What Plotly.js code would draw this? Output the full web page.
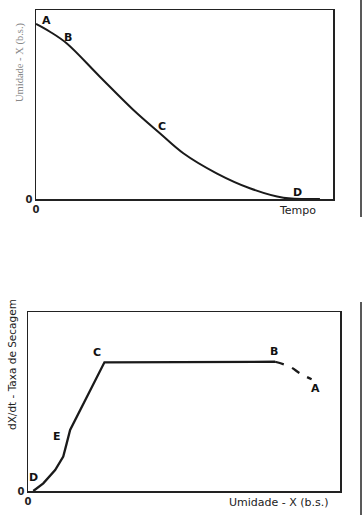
<!DOCTYPE html>
<html><head><meta charset="utf-8">
<script src="https://cdn.plot.ly/plotly-3.0.1.min.js"></script>
<style>html,body{margin:0;padding:0;background:#fff}#g{width:364px;height:515px}</style>
</head><body><div id="g"></div>
<script>
// Top chart: moisture X vs time
const tempo = [0, 0.47, 1.03, 2.15, 3.28, 4.17, 4.96, 6.08, 7.20, 8.33, 9.56];
const umidade = [9.26, 8.85, 8.24, 6.47, 4.71, 3.48, 2.42, 1.36, 0.57, 0.07, 0];
const topLabels = ['A', 'B', 'C', 'D'];
const topLabelX = [0.34, 1.08, 4.24, 8.79];
const topLabelY = [9.47, 8.52, 3.81, 0.37];

// Bottom chart: drying rate vs moisture
const umidadeSolid = [0.17, 0.49, 0.87, 1.13, 1.24, 1.35, 2.45, 7.92];
const taxaSolid = [0, 0.43, 1.17, 1.92, 2.66, 3.41, 7.19, 7.22];
const umidadeDash = [7.92, 8.40, 8.72, 9.09];
const taxaDash = [7.22, 6.94, 6.57, 6.24];
const botLabels = ['C', 'B', 'A', 'E', 'D'];
const botLabelX = [2.21, 7.88, 9.23, 0.93, 0.19];
const botLabelY = [7.71, 7.77, 5.75, 3.02, 0.73];

const sans = 'DejaVu Sans, Arial, sans-serif';
const lf = {family: sans, size: 11, color: '#111'};
const traces = [
  {x: tempo, y: umidade, xaxis: 'x', yaxis: 'y', mode: 'lines', line: {color: '#1a1a1a', width: 2, shape: 'spline'}, hoverinfo: 'skip'},
  {x: umidadeSolid, y: taxaSolid, xaxis: 'x2', yaxis: 'y2', mode: 'lines', line: {color: '#1a1a1a', width: 2.3}, hoverinfo: 'skip'},
  {x: umidadeDash, y: taxaDash, xaxis: 'x2', yaxis: 'y2', mode: 'lines', line: {color: '#1a1a1a', width: 2.3, dash: 'dash', shape: 'spline'}, hoverinfo: 'skip'}
];
const ann = [];
const c = {xanchor: 'center', yanchor: 'middle', showarrow: false};
topLabels.forEach((t, i) => ann.push(Object.assign({text: '<b>' + t + '</b>', x: topLabelX[i], y: topLabelY[i], xref: 'x', yref: 'y', font: lf}, c)));
botLabels.forEach((t, i) => ann.push(Object.assign({text: '<b>' + t + '</b>', x: botLabelX[i], y: botLabelY[i], xref: 'x2', yref: 'y2', font: lf}, c)));
ann.push(Object.assign({text: 'Tempo', x: 297/364, y: 1 - 210/515, xref: 'paper', yref: 'paper', font: {family: sans, size: 11, color: '#222'}}, c));
ann.push(Object.assign({text: 'Umidade - X (b.s.)', textangle: -90, x: 20/364, y: 1 - 62/515, xref: 'paper', yref: 'paper', font: {family: 'Liberation Serif, Times New Roman, serif', size: 10.5, color: '#888'}}, c));
ann.push(Object.assign({text: 'dX/dt - Taxa de Secagem', textangle: -90, x: 12/364, y: 1 - 365/515, xref: 'paper', yref: 'paper', font: {family: sans, size: 10.5, color: '#222'}}, c));
ann.push(Object.assign({text: 'Umidade - X (b.s.)', x: 279/364, y: 1 - 502/515, xref: 'paper', yref: 'paper', font: {family: sans, size: 11, color: '#222'}}, c));

const ax = {showline: true, mirror: true, linecolor: '#222', linewidth: 1.5, showgrid: false, zeroline: false,
  tickvals: [0], ticktext: ['<b>0</b>'], ticks: '', tickfont: {family: sans, size: 10, color: '#222'}, range: [0, 10], fixedrange: true};
const layout = {
  width: 364, height: 515, margin: {l: 0, r: 0, t: 0, b: 0}, showlegend: false,
  paper_bgcolor: '#fff', plot_bgcolor: '#fff',
  xaxis: Object.assign({}, ax, {domain: [36/364, 333/364], anchor: 'y'}),
  yaxis: Object.assign({}, ax, {domain: [1 - 199/515, 1 - 10/515], anchor: 'x'}),
  xaxis2: Object.assign({}, ax, {domain: [28/364, 340/364], anchor: 'y2'}),
  yaxis2: Object.assign({}, ax, {domain: [1 - 491/515, 1 - 312/515], anchor: 'x2'}),
  annotations: ann,
  shapes: [
    {type: 'line', xref: 'paper', yref: 'paper', x0: 361/364, x1: 361/364, y0: 1, y1: 1 - 217/515, line: {color: '#222', width: 1.5}},
    {type: 'line', xref: 'paper', yref: 'paper', x0: 361/364, x1: 361/364, y0: 1 - 302/515, y1: 0, line: {color: '#222', width: 1.5}}
  ]
};
Plotly.newPlot('g', traces, layout, {staticPlot: true, displayModeBar: false});
</script></body></html>
